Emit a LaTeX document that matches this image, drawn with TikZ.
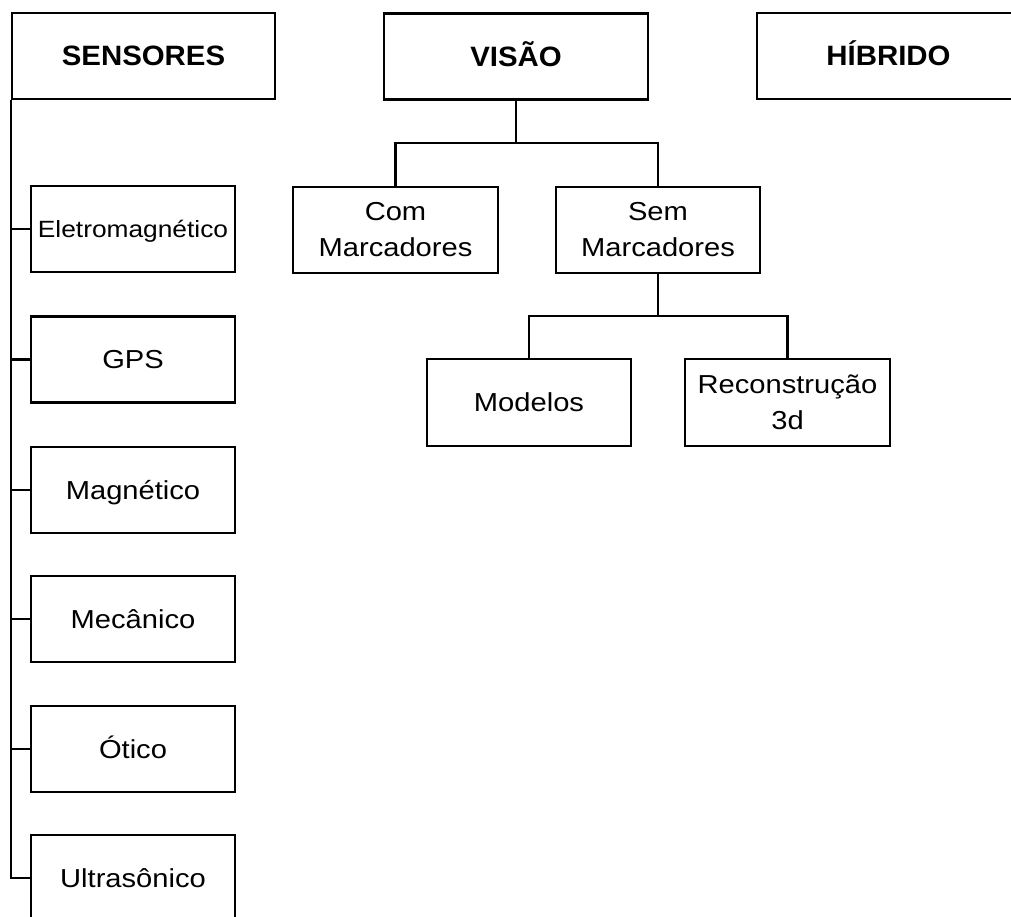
\documentclass[tikz,border=0pt]{standalone}
\usepackage{fontspec}
\setmainfont{Liberation Sans}[FakeStretch=1.12]
\newfontfamily\titlefont{Liberation Sans}[FakeStretch=1.05]
\begin{document}
\begin{tikzpicture}[x=1pt,y=-1pt,
  box/.style={draw, line width=2.4pt, line join=miter, inner sep=0pt, align=center,
    font=\fontsize{26}{36}\selectfont},
  small/.style={box, minimum width=204pt, minimum height=86pt},
  one/.style={text height=18.5pt, text depth=0pt},
  big/.style={box, one, minimum width=263pt, minimum height=86pt,
    font=\titlefont\bfseries\fontsize{28}{36}\selectfont, text height=20pt},
  link/.style={line width=2.4pt, line join=miter}]
\useasboundingbox (0,0) rectangle (1011,917);
\clip (0,0) rectangle (1011,917);
% top level
\node[big] (sensores) at (143.5,56) {SENSORES};
\node[big, minimum width=264pt] (visao) at (516,56.5) {VISÃO};
\node[big] (hibrido) at (888.5,56) {HÍBRIDO};
% sensors column
\node[small, one, font=\fontsize{23.5}{36}\selectfont, text height=17pt] (eletro) at (133,229) {Eletromagnético};
\node[small, one] (gps) at (133,359.5) {GPS};
\node[small, one] (magn) at (133,490) {Magnético};
\node[small, one] (mec) at (133,619) {Mecânico};
\node[small, one] (otico) at (133,749) {Ótico};
\node[small, one] (ultra) at (133,878) {Ultrasônico};
% vision subtree
\node[small, minimum width=205pt] (com) at (395.5,230) {Com\\Marcadores};
\node[small] (sem) at (658,230) {Sem\\Marcadores};
\node[small, one, minimum height=87pt] (modelos) at (529,402.5) {Modelos};
\node[small, minimum width=205pt, minimum height=87pt] (recon) at (787.5,402.5) {Reconstrução\\3d};
% connectors: sensors
\draw[link] (sensores.south west) |- (ultra.west);
\foreach \n in {eletro,gps,magn,mec,otico}
  \draw[link] (sensores.south west |- \n.west) -- (\n.west);
% connectors: vision
\coordinate (vj) at (516,143);
\draw[link] (visao.south) -- (vj);
\draw[link] (com.north) -- (com.north |- vj) -- (sem.north |- vj) -- (sem.north);
\coordinate (sj) at (658,316);
\draw[link] (sem.south) -- (sj);
\draw[link] (modelos.north) -- (modelos.north |- sj) -- (recon.north |- sj) -- (recon.north);
\end{tikzpicture}
\end{document}
